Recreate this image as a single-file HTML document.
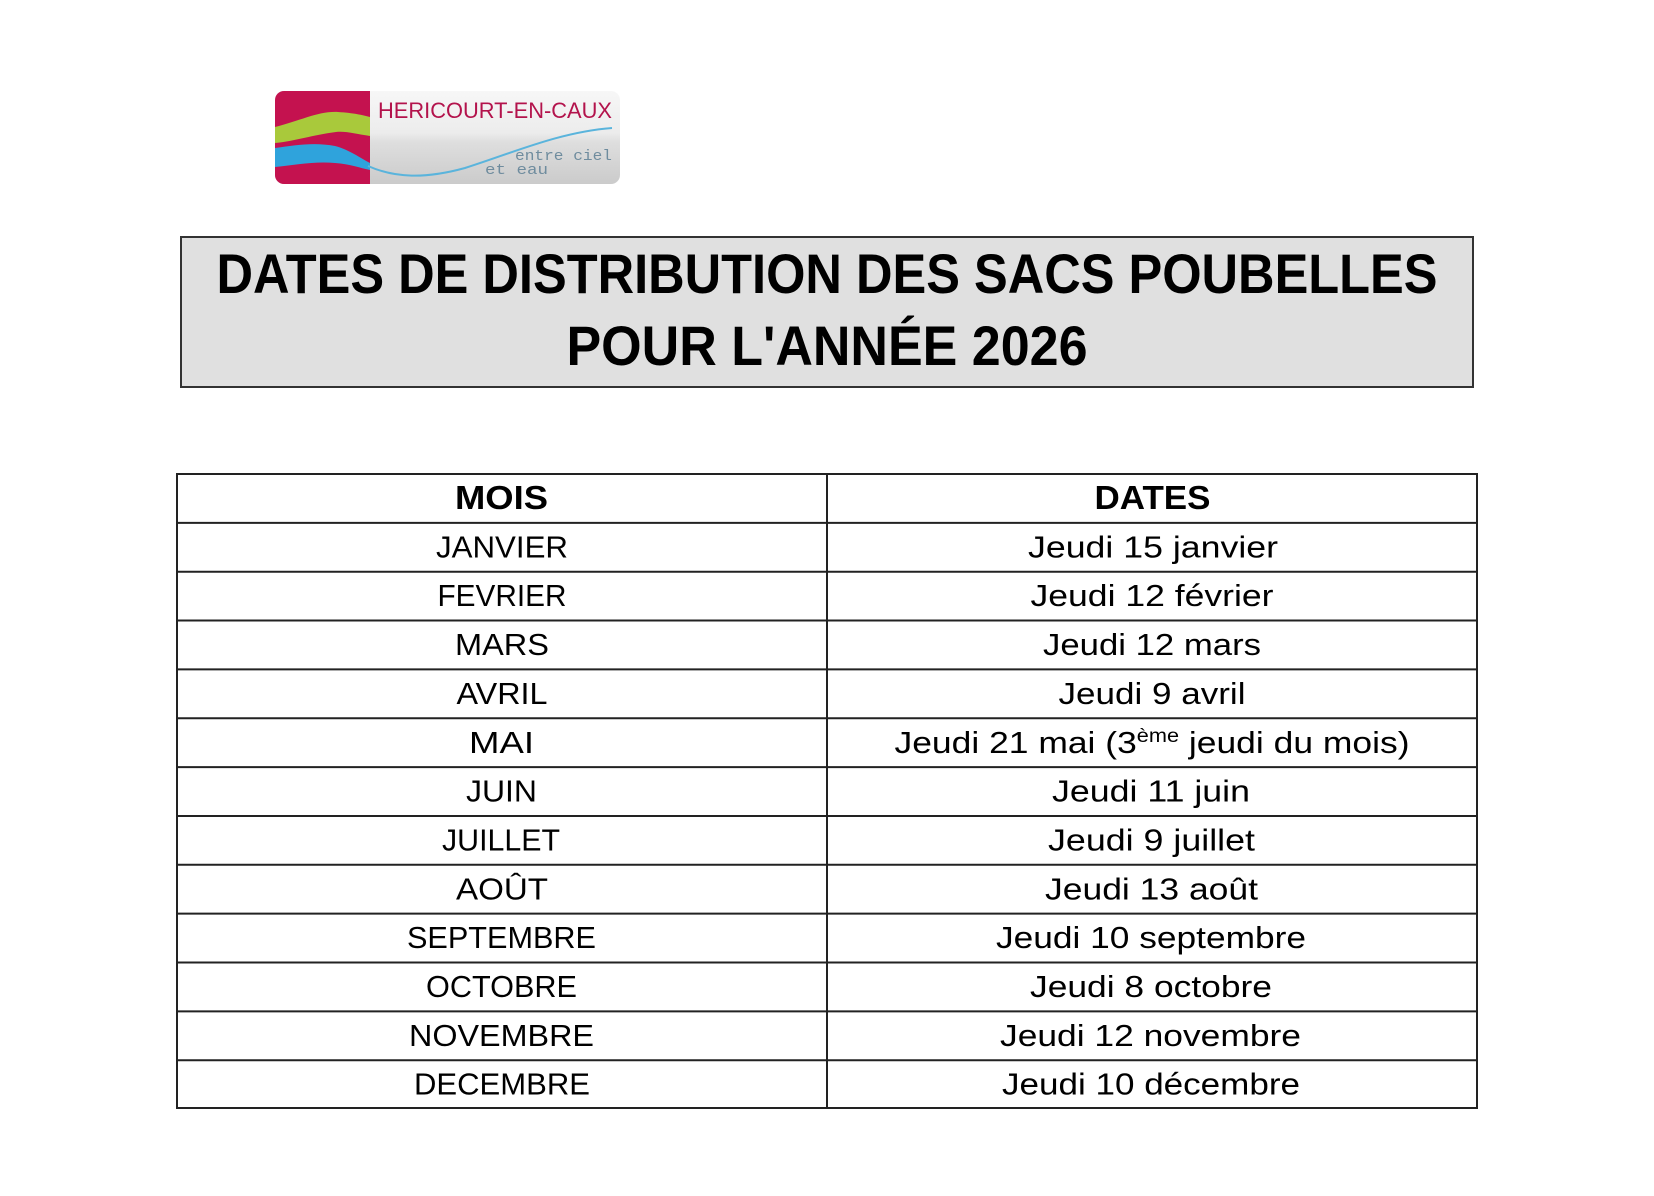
<!DOCTYPE html>
<html>
<head>
<meta charset="utf-8">
<style>
  html, body { margin:0; padding:0; background:#ffffff; }
  body { width:1654px; height:1196px; overflow:hidden; }
  svg { display:block; }
</style>
</head>
<body>
<svg width="1654" height="1196" viewBox="0 0 1654 1196" xmlns="http://www.w3.org/2000/svg">
  <defs>
    <clipPath id="logoClip">
      <rect x="275" y="91" width="345" height="93" rx="9" ry="9"/>
    </clipPath>
    <linearGradient id="greyGrad" x1="0" y1="0" x2="0" y2="1">
      <stop offset="0" stop-color="#f7f7f7"/>
      <stop offset="0.45" stop-color="#ececec"/>
      <stop offset="0.55" stop-color="#dedede"/>
      <stop offset="1" stop-color="#cbcbcb"/>
    </linearGradient>
  </defs>

  <rect x="0" y="0" width="1654" height="1196" fill="#ffffff"/>

  <!-- Logo -->
  <g clip-path="url(#logoClip)">
    <rect x="275" y="91" width="345" height="93" fill="url(#greyGrad)"/>
    <rect x="275" y="91" width="95" height="93" fill="#c4124f"/>
    <path d="M275,127 C300,121 318,111 338,112 C354,113 362,115 370,117 L370,136 C356,134 346,131 336,132 C312,135 296,141 275,143 Z" fill="#a9c93b"/>
    <path d="M275,148 C295,145 315,142 335,146 C350,150 360,158 370,163 L370,170 C360,168 350,164 335,163 C315,161 295,165 275,167 Z" fill="#2fa3dc"/>
    <path d="M368,166 C395,178 425,179 465,168 C515,152 560,132 612,128" fill="none" stroke="#5ab4dc" stroke-width="2"/>
  </g>
  <text x="378" y="118" font-family="'Liberation Sans', sans-serif" font-size="22" fill="#b3134c" textLength="234" lengthAdjust="spacingAndGlyphs">HERICOURT-EN-CAUX</text>
  <text x="515" y="160" font-family="'Liberation Mono', monospace" font-size="15" fill="#6f8c9e" textLength="97" lengthAdjust="spacingAndGlyphs">entre ciel</text>
  <text x="485" y="174" font-family="'Liberation Mono', monospace" font-size="15" fill="#6f8c9e" textLength="63" lengthAdjust="spacingAndGlyphs">et eau</text>

  <!-- Title box -->
  <rect x="181" y="237" width="1292" height="150" fill="#e0e0e0" stroke="#333333" stroke-width="2"/>
  <text x="827" y="293" text-anchor="middle" font-family="'Liberation Sans', sans-serif" font-weight="bold" font-size="56" fill="#000" textLength="1221" lengthAdjust="spacingAndGlyphs">DATES DE DISTRIBUTION DES SACS POUBELLES</text>
  <text x="827" y="365" text-anchor="middle" font-family="'Liberation Sans', sans-serif" font-weight="bold" font-size="56" fill="#000" textLength="521" lengthAdjust="spacingAndGlyphs">POUR L'ANNÉE 2026</text>

  <!-- Table -->
  <g stroke="#222222" stroke-width="2" fill="none">
    <rect x="177" y="474" width="1300" height="634"/>
    <line x1="827" y1="474" x2="827" y2="1108"/>
    <line x1="177" y1="522.85" x2="1477" y2="522.85"/>
    <line x1="177" y1="571.7" x2="1477" y2="571.7"/>
    <line x1="177" y1="620.55" x2="1477" y2="620.55"/>
    <line x1="177" y1="669.4" x2="1477" y2="669.4"/>
    <line x1="177" y1="718.25" x2="1477" y2="718.25"/>
    <line x1="177" y1="767.1" x2="1477" y2="767.1"/>
    <line x1="177" y1="815.95" x2="1477" y2="815.95"/>
    <line x1="177" y1="864.8" x2="1477" y2="864.8"/>
    <line x1="177" y1="913.65" x2="1477" y2="913.65"/>
    <line x1="177" y1="962.5" x2="1477" y2="962.5"/>
    <line x1="177" y1="1011.35" x2="1477" y2="1011.35"/>
    <line x1="177" y1="1060.2" x2="1477" y2="1060.2"/>
  </g>

  <g font-family="'Liberation Sans', sans-serif" fill="#000" text-anchor="middle">
    <!-- header -->
    <text x="501.5" y="509" font-weight="bold" font-size="33" textLength="93" lengthAdjust="spacingAndGlyphs">MOIS</text>
    <text x="1152.5" y="509" font-weight="bold" font-size="33" textLength="116" lengthAdjust="spacingAndGlyphs">DATES</text>

    <g font-size="31">
      <!-- months -->
      <text x="502" y="557.35" textLength="132" lengthAdjust="spacingAndGlyphs">JANVIER</text>
      <text x="502" y="606.2" textLength="129" lengthAdjust="spacingAndGlyphs">FEVRIER</text>
      <text x="502" y="655.05" textLength="94" lengthAdjust="spacingAndGlyphs">MARS</text>
      <text x="502" y="703.9" textLength="91" lengthAdjust="spacingAndGlyphs">AVRIL</text>
      <text x="501.5" y="752.75" textLength="65" lengthAdjust="spacingAndGlyphs">MAI</text>
      <text x="501.5" y="801.6" textLength="71" lengthAdjust="spacingAndGlyphs">JUIN</text>
      <text x="501" y="850.45" textLength="118" lengthAdjust="spacingAndGlyphs">JUILLET</text>
      <text x="502" y="899.3" textLength="92" lengthAdjust="spacingAndGlyphs">AOÛT</text>
      <text x="501.5" y="948.15" textLength="189" lengthAdjust="spacingAndGlyphs">SEPTEMBRE</text>
      <text x="501.5" y="997" textLength="151" lengthAdjust="spacingAndGlyphs">OCTOBRE</text>
      <text x="501.5" y="1045.85" textLength="185" lengthAdjust="spacingAndGlyphs">NOVEMBRE</text>
      <text x="502" y="1094.7" textLength="176" lengthAdjust="spacingAndGlyphs">DECEMBRE</text>

      <!-- dates -->
      <text x="1153" y="557.35" textLength="250" lengthAdjust="spacingAndGlyphs">Jeudi 15 janvier</text>
      <text x="1152" y="606.2" textLength="243" lengthAdjust="spacingAndGlyphs">Jeudi 12 février</text>
      <text x="1152" y="655.05" textLength="218" lengthAdjust="spacingAndGlyphs">Jeudi 12 mars</text>
      <text x="1152" y="703.9" textLength="187" lengthAdjust="spacingAndGlyphs">Jeudi 9 avril</text>
      <text x="1152" y="752.75" textLength="515" lengthAdjust="spacingAndGlyphs">Jeudi 21 mai (3<tspan font-size="19" dy="-11">ème</tspan><tspan dy="11"> jeudi du mois)</tspan></text>
      <text x="1151" y="801.6" textLength="198" lengthAdjust="spacingAndGlyphs">Jeudi 11 juin</text>
      <text x="1151.5" y="850.45" textLength="207" lengthAdjust="spacingAndGlyphs">Jeudi 9 juillet</text>
      <text x="1151.5" y="899.3" textLength="213" lengthAdjust="spacingAndGlyphs">Jeudi 13 août</text>
      <text x="1151" y="948.15" textLength="310" lengthAdjust="spacingAndGlyphs">Jeudi 10 septembre</text>
      <text x="1151" y="997" textLength="242" lengthAdjust="spacingAndGlyphs">Jeudi 8 octobre</text>
      <text x="1150.5" y="1045.85" textLength="301" lengthAdjust="spacingAndGlyphs">Jeudi 12 novembre</text>
      <text x="1151" y="1094.7" textLength="298" lengthAdjust="spacingAndGlyphs">Jeudi 10 décembre</text>
    </g>
  </g>
</svg>
</body>
</html>
